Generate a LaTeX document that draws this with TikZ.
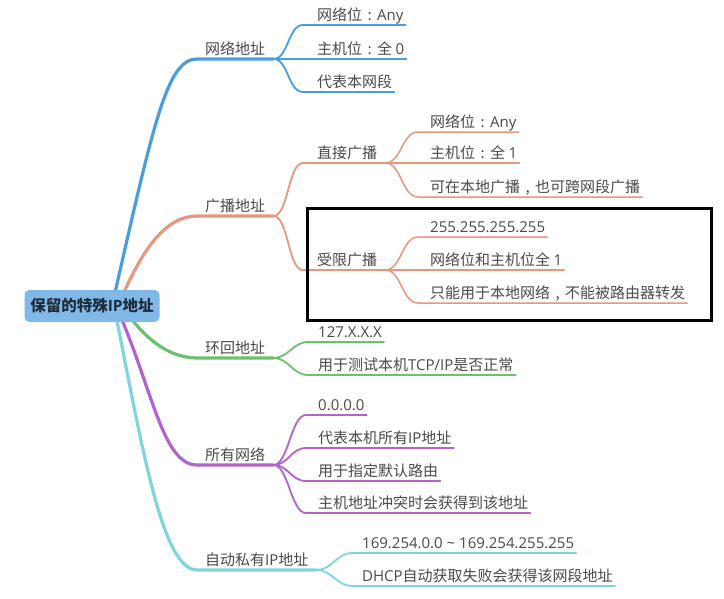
\documentclass[tikz,border=0pt]{standalone}
\usepackage{fontspec}
\setmainfont{Noto Sans CJK SC}
\newfontfamily\latf{Open Sans}
\usetikzlibrary{backgrounds}
\definecolor{txt}{HTML}{4A4A4A}
\definecolor{roottxt}{HTML}{1F2D3A}
\definecolor{rootfill}{HTML}{80B9E8}
\definecolor{cblue}{HTML}{4A9EE0}
\definecolor{csalmon}{HTML}{E8977F}
\definecolor{cgreen}{HTML}{6CC070}
\definecolor{cpurple}{HTML}{B462CC}
\definecolor{ccyan}{HTML}{80D3E0}
\newcommand{\fwcolon}{\makebox[1em]{:}}
\newcommand{\fwcomma}{\makebox[1em]{,}}
\newcommand{\la}[1]{{\latf #1}}
\begin{document}
\begin{tikzpicture}[x=1pt,y=-1pt,
  every node/.style={font=\fontsize{15}{18}\selectfont, text=txt},
  lvone/.style={anchor=south west, inner xsep=8pt, inner ysep=1.5pt, text height=11pt, text depth=3pt},
  leaf/.style={anchor=south west, inner xsep=2pt, inner ysep=1.5pt, text height=11pt, text depth=3pt},
  rootbox/.style={fill=rootfill, rounded corners=5pt, minimum width=135pt, minimum height=32pt,
    font=\bfseries\fontsize{15.5}{19}\selectfont, text=roottxt},
  trunk/.style={line width=3.2pt, line cap=round},
  twig/.style={line width=1.8pt, line cap=round},
]
\useasboundingbox (0,0) rectangle (724,598);

% root
\node[rootbox] (root) at (92,306) {保留的特殊\la{IP}地址};

% level one
\node[lvone] (n1) at (197,59) {网络地址};
\node[lvone] (n2) at (197,216) {广播地址};
\node[lvone] (n3) at (197,358) {环回地址};
\node[lvone] (n4) at (197,465) {所有网络};
\node[lvone] (n5) at (197,570) {自动私有\la{IP}地址};

% level two under 广播地址
\node[lvone] (n21) at (309,163) {直接广播};
\node[lvone] (n22) at (309,270) {受限广播};

% leaves
\node[leaf] (n11) at (315,25) {网络位\fwcolon\la{Any}};
\node[leaf] (n12) at (315,59) {主机位\fwcolon 全 \la{0}};
\node[leaf] (n13) at (315,92) {代表本网段};

\node[leaf] (n211) at (428,132) {网络位\fwcolon\la{Any}};
\node[leaf] (n212) at (428,163) {主机位\fwcolon 全 \la{1}};
\node[leaf] (n213) at (428,197) {可在本地广播\fwcomma 也可跨网段广播};

\node[leaf] (n221) at (428,237) {\la{255.255.255.255}};
\node[leaf] (n222) at (428,270) {网络位和主机位全 \la{1}};
\node[leaf] (n223) at (428,303) {只能用于本地网络\fwcomma 不能被路由器转发};

\node[leaf] (n31) at (316,342) {\la{127.X.X.X}};
\node[leaf] (n32) at (316,375) {用于测试本机\la{TCP/IP}是否正常};

\node[leaf] (n41) at (316,415) {\la{0.0.0.0}};
\node[leaf] (n42) at (316,448) {代表本机所有\la{IP}地址};
\node[leaf] (n43) at (316,481) {用于指定默认路由};
\node[leaf] (n44) at (316,513) {主机地址冲突时会获得到该地址};

\node[leaf] (n51) at (360,553) {\la{169.254.0.0 \char"007E{} 169.254.255.255}};
\node[leaf] (n52) at (360,586) {\la{DHCP}自动获取失败会获得该网段地址};

\begin{scope}[on background layer]
\fill[white] (0,0) rectangle (724,598);
% trunks
\draw[trunk, cblue] ([xshift=20pt]root.center) .. controls +(42,-185) and +(-30,0) .. (n1.south west) -- (n1.south east);
\draw[trunk, csalmon] ([xshift=26pt]root.center) .. controls +(25,-60) and +(-30,0) .. (n2.south west) -- (n2.south east);
\draw[trunk, cgreen] ([xshift=30pt]root.center) .. controls +(20,30) and +(-30,0) .. (n3.south west) -- (n3.south east);
\draw[trunk, cpurple] ([xshift=24pt]root.center) .. controls +(36,80) and +(-35,0) .. (n4.south west) -- (n4.south east);
\draw[trunk, ccyan] ([xshift=22pt]root.center) .. controls +(28,140) and +(-35,0) .. (n5.south west) -- (n5.south east);

% 网络地址
\foreach \c in {n11,n12,n13}
  \draw[twig, cblue] (n1.south east) .. controls +(15,0) and +(-15,0) .. ([xshift=-12pt]\c.south west) -- (\c.south east);
% 广播地址
\foreach \c in {n21,n22}
  \draw[twig, csalmon] (n2.south east) .. controls +(15,0) and +(-15,0) .. ([xshift=-6pt]\c.south west) -- (\c.south east);
\foreach \c in {n211,n212,n213}
  \draw[twig, csalmon, line width=1.5pt] (n21.south east) .. controls +(16,0) and +(-16,0) .. ([xshift=-10pt]\c.south west) -- (\c.south east);
\foreach \c in {n221,n222,n223}
  \draw[twig, csalmon, line width=1.5pt] (n22.south east) .. controls +(16,0) and +(-16,0) .. ([xshift=-10pt]\c.south west) -- (\c.south east);
% 环回地址
\foreach \c in {n31,n32}
  \draw[twig, cgreen] (n3.south east) .. controls +(15,0) and +(-15,0) .. ([xshift=-8pt]\c.south west) -- (\c.south east);
% 所有网络
\foreach \c in {n41,n42,n43,n44}
  \draw[twig, cpurple] (n4.south east) .. controls +(15,0) and +(-15,0) .. ([xshift=-10pt]\c.south west) -- (\c.south east);
% 自动私有IP地址
\foreach \c in {n51,n52}
  \draw[twig, ccyan] (n5.south east) .. controls +(15,0) and +(-15,0) .. ([xshift=-8pt]\c.south west) -- (\c.south east);
\end{scope}

% highlight frame
\draw[line width=3pt] (307,208) rectangle (711,320);
\end{tikzpicture}
\end{document}
